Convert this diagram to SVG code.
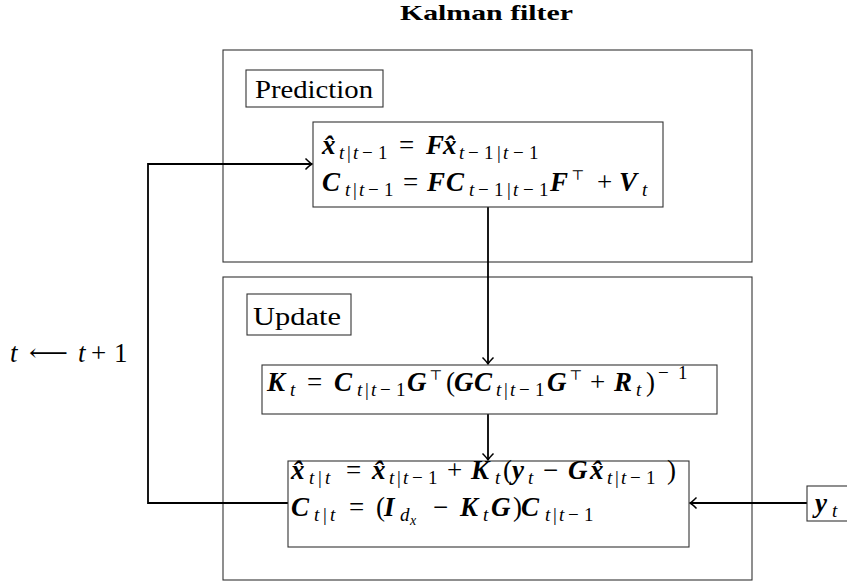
<svg xmlns="http://www.w3.org/2000/svg" width="847" height="585" viewBox="0 0 847 585">
<defs>
<style>
.frame{fill:none;stroke:#333;stroke-width:1.1}
.box{fill:#fff;stroke:#333;stroke-width:1.1}
.wire{fill:none;stroke:#000;stroke-width:1.8}
text{font-family:"Liberation Serif","DejaVu Serif",serif;fill:#000}
.m{font-size:27px}
.b{font-weight:bold;font-style:italic}
.i{font-style:italic}
.s{font-size:19px}
.ss{font-size:14px}
.tp{font-size:14px;font-family:"DejaVu Serif",serif}
.lbl{font-size:26px}
</style>
<marker id="arr" markerUnits="userSpaceOnUse" markerWidth="14" markerHeight="14" viewBox="-8 -7 10 14" refX="0" refY="0" orient="auto">
<path d="M-6.5,-5.5 Q-2,-1 0,0 Q-2,1 -6.5,5.5" fill="none" stroke="#000" stroke-width="1.5"/>
</marker>
</defs>
<rect width="847" height="585" fill="#fff"/>

<text x="400" y="20" font-size="21" font-weight="bold" textLength="173" lengthAdjust="spacingAndGlyphs">Kalman filter</text>

<g id="prediction">
<rect class="frame" x="223" y="50" width="529" height="212"/>
<rect class="box" x="246" y="70" width="137" height="37"/>
<text class="lbl" x="255" y="98" textLength="118" lengthAdjust="spacingAndGlyphs">Prediction</text>
</g>

<g id="update">
<rect class="frame" x="223" y="277" width="529" height="303"/>
<rect class="box" x="247" y="294" width="104" height="41"/>
<text class="lbl" x="253" y="325" textLength="88" lengthAdjust="spacingAndGlyphs">Update</text>
</g>

<g id="connectors">
<path class="wire" d="M488,207 V364" marker-end="url(#arr)"/>
<path class="wire" d="M488,414 V460" marker-end="url(#arr)"/>
<path class="wire" d="M288,503 H148 V164 H312" marker-end="url(#arr)"/>
<path class="wire" d="M807,503 H690" marker-end="url(#arr)"/>
</g>

<g id="predict-eq">
<rect class="box" x="313" y="122" width="350" height="85"/>
<text class="m">
<tspan class="b" x="322" y="154">x̂</tspan>
<tspan class="s" y="159"><tspan class="i" x="339">t</tspan><tspan x="347">|</tspan><tspan class="i" x="353">t</tspan><tspan x="362">−</tspan><tspan x="378">1</tspan></tspan>
<tspan x="399" y="154">=</tspan>
<tspan class="b" x="426" y="154">F</tspan><tspan class="b" x="443" y="154">x̂</tspan>
<tspan class="s" y="159"><tspan class="i" x="459">t</tspan><tspan x="468">−</tspan><tspan x="484">1</tspan><tspan x="497">|</tspan><tspan class="i" x="503">t</tspan><tspan x="513">−</tspan><tspan x="529">1</tspan></tspan>
</text>
<text class="m">
<tspan class="b" x="322" y="191">C</tspan>
<tspan class="s" y="196"><tspan class="i" x="345">t</tspan><tspan x="353">|</tspan><tspan class="i" x="359">t</tspan><tspan x="368">−</tspan><tspan x="384">1</tspan></tspan>
<tspan x="403" y="191">=</tspan>
<tspan class="b" x="427" y="191">F</tspan><tspan class="b" x="446" y="191">C</tspan>
<tspan class="s" y="196"><tspan class="i" x="469">t</tspan><tspan x="478">−</tspan><tspan x="494">1</tspan><tspan x="507">|</tspan><tspan class="i" x="513">t</tspan><tspan x="523">−</tspan><tspan x="539">1</tspan></tspan>
<tspan class="b" x="550" y="191">F</tspan>
<tspan class="tp" x="571" y="180">⊤</tspan>
<tspan x="597" y="191">+</tspan>
<tspan class="b" x="619" y="191">V</tspan>
<tspan class="s i" x="642" y="196">t</tspan>
</text>
</g>

<g id="gain-eq">
<rect class="box" x="262" y="365" width="455" height="49"/>
<text class="m">
<tspan class="b" x="267" y="391">K</tspan>
<tspan class="s i" x="290" y="396">t</tspan>
<tspan x="307" y="391">=</tspan>
<tspan class="b" x="334" y="391">C</tspan>
<tspan class="s" y="396"><tspan class="i" x="357">t</tspan><tspan x="365">|</tspan><tspan class="i" x="371">t</tspan><tspan x="380">−</tspan><tspan x="396">1</tspan></tspan>
<tspan class="b" x="407" y="391">G</tspan>
<tspan class="tp" x="429" y="380">⊤</tspan>
<tspan x="446" y="391">(</tspan>
<tspan class="b" x="454" y="391">G</tspan><tspan class="b" x="474" y="391">C</tspan>
<tspan class="s" y="396"><tspan class="i" x="496">t</tspan><tspan x="504">|</tspan><tspan class="i" x="510">t</tspan><tspan x="519">−</tspan><tspan x="535">1</tspan></tspan>
<tspan class="b" x="547" y="391">G</tspan>
<tspan class="tp" x="569" y="380">⊤</tspan>
<tspan x="590" y="391">+</tspan>
<tspan class="b" x="614" y="391">R</tspan>
<tspan class="s i" x="636" y="396">t</tspan>
<tspan x="646" y="391">)</tspan>
<tspan class="s" y="379"><tspan x="658">−</tspan><tspan x="678">1</tspan></tspan>
</text>
</g>

<g id="correct-eq">
<rect class="box" x="288" y="461" width="401" height="86"/>
<text class="m">
<tspan class="b" x="291" y="479">x̂</tspan>
<tspan class="s" y="484"><tspan class="i" x="309">t</tspan><tspan x="318">|</tspan><tspan class="i" x="325">t</tspan></tspan>
<tspan x="346" y="479">=</tspan>
<tspan class="b" x="372" y="479">x̂</tspan>
<tspan class="s" y="484"><tspan class="i" x="389">t</tspan><tspan x="397">|</tspan><tspan class="i" x="403">t</tspan><tspan x="412">−</tspan><tspan x="428">1</tspan></tspan>
<tspan x="447" y="479">+</tspan>
<tspan class="b" x="471" y="479">K</tspan>
<tspan class="s i" x="495" y="484">t</tspan>
<tspan x="503" y="479">(</tspan>
<tspan class="b" x="512" y="479">y</tspan>
<tspan class="s i" x="528" y="484">t</tspan>
<tspan x="543" y="479">−</tspan>
<tspan class="b" x="568" y="479">G</tspan><tspan class="b" x="590" y="479">x̂</tspan>
<tspan class="s" y="484"><tspan class="i" x="607">t</tspan><tspan x="615">|</tspan><tspan class="i" x="621">t</tspan><tspan x="630">−</tspan><tspan x="646">1</tspan></tspan>
<tspan x="667" y="479">)</tspan>
</text>
<text class="m">
<tspan class="b" x="291" y="516">C</tspan>
<tspan class="s" y="521"><tspan class="i" x="314">t</tspan><tspan x="323">|</tspan><tspan class="i" x="330">t</tspan></tspan>
<tspan x="349" y="516">=</tspan>
<tspan x="376" y="516">(</tspan>
<tspan class="b" x="384" y="516">I</tspan>
<tspan class="s i" x="400" y="521">d</tspan>
<tspan class="ss i" x="410" y="525">x</tspan>
<tspan x="433" y="516">−</tspan>
<tspan class="b" x="460" y="516">K</tspan>
<tspan class="s i" x="483" y="521">t</tspan>
<tspan class="b" x="491" y="516">G</tspan>
<tspan x="513" y="516">)</tspan>
<tspan class="b" x="521" y="516">C</tspan>
<tspan class="s" y="521"><tspan class="i" x="545">t</tspan><tspan x="553">|</tspan><tspan class="i" x="559">t</tspan><tspan x="568">−</tspan><tspan x="584">1</tspan></tspan>
</text>
</g>

<g id="observation">
<rect class="box" x="807" y="486" width="45" height="35"/>
<text class="m"><tspan class="b" x="815" y="512">y</tspan><tspan class="s i" x="832" y="517">t</tspan></text>
</g>

<g id="time-step">
<text class="m"><tspan class="i" x="10" y="362">t</tspan><tspan x="78" y="362" class="i">t</tspan><tspan x="91" y="362">+</tspan><tspan x="114" y="362">1</tspan></text>
<text x="29" y="361" font-family="DejaVu Serif" font-size="24" textLength="39" lengthAdjust="spacingAndGlyphs">⟵</text>
</g>
</svg>
